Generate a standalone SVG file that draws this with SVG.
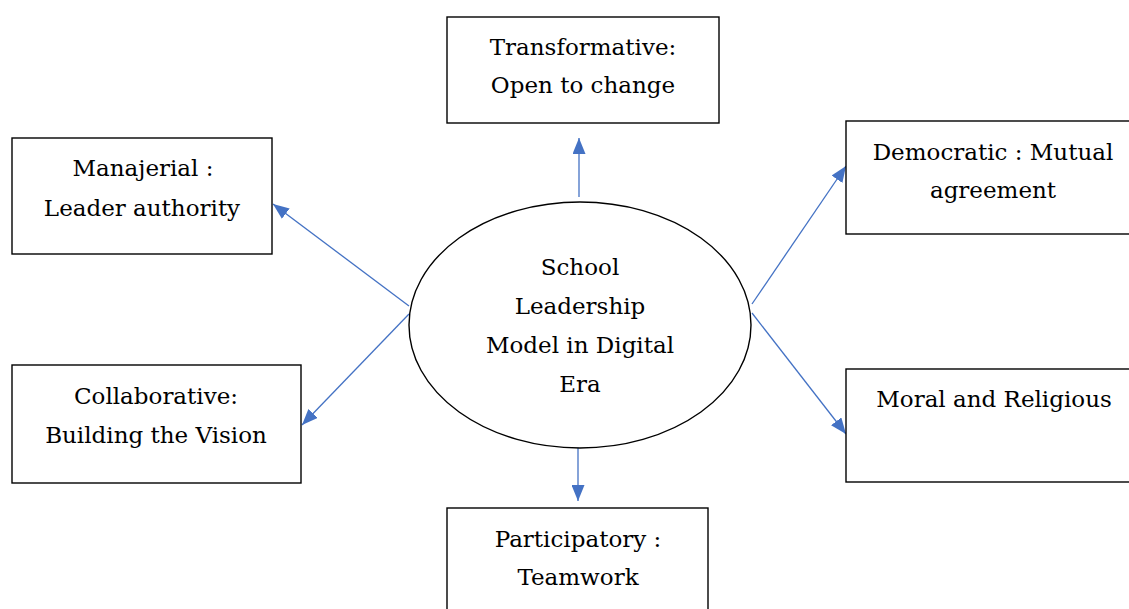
<svg xmlns="http://www.w3.org/2000/svg" width="1129" height="609" viewBox="0 0 1129 609">
<style>
.box{fill:#fff;stroke:#000;stroke-width:1.4}
.lbl{font-family:"DejaVu Serif","Liberation Serif",serif;font-size:23px;fill:#000;text-anchor:middle}
.edge{stroke:#4472C4;stroke-width:1.3;fill:none;marker-end:url(#ah)}
</style>
<defs>
<marker id="ah" markerUnits="userSpaceOnUse" markerWidth="17" markerHeight="13" refX="16" refY="6.5" orient="auto">
<path d="M0,0 L16,6.5 L0,13 z" fill="#4472C4"/>
</marker>
</defs>
<rect width="1129" height="609" fill="#fff"/>
<g id="connectors">
<line class="edge" x1="579" y1="197" x2="579" y2="138"/>
<line class="edge" x1="409" y1="306" x2="273" y2="204"/>
<line class="edge" x1="409" y1="314" x2="302" y2="425"/>
<line class="edge" x1="752" y1="304" x2="846" y2="166"/>
<line class="edge" x1="752" y1="313" x2="846" y2="434"/>
<line class="edge" x1="578" y1="448" x2="578" y2="501"/>
</g>
<g id="center">
<ellipse cx="580" cy="325" rx="171" ry="123" fill="#fff" stroke="#000" stroke-width="1.4"/>
<text class="lbl" x="580" y="275">School</text>
<text class="lbl" x="580" y="314">Leadership</text>
<text class="lbl" x="580" y="353">Model in Digital</text>
<text class="lbl" x="580" y="392">Era</text>
</g>
<g id="transformative">
<rect class="box" x="447" y="17" width="272" height="106"/>
<text class="lbl" x="583" y="55">Transformative:</text>
<text class="lbl" x="583" y="93">Open to change</text>
</g>
<g id="manajerial">
<rect class="box" x="12" y="138" width="260" height="116"/>
<text class="lbl" x="143" y="176">Manajerial :</text>
<text class="lbl" x="142" y="216">Leader authority</text>
</g>
<g id="collaborative">
<rect class="box" x="12" y="365" width="289" height="118"/>
<text class="lbl" x="156" y="404">Collaborative:</text>
<text class="lbl" x="156" y="443">Building the Vision</text>
</g>
<g id="democratic">
<rect class="box" x="846" y="121" width="300" height="113"/>
<text class="lbl" x="993" y="160">Democratic : Mutual</text>
<text class="lbl" x="993" y="198">agreement</text>
</g>
<g id="moral">
<rect class="box" x="846" y="369" width="300" height="113"/>
<text class="lbl" x="994" y="407">Moral and Religious</text>
</g>
<g id="participatory">
<rect class="box" x="447" y="508" width="261" height="120"/>
<text class="lbl" x="578" y="547">Participatory :</text>
<text class="lbl" x="578" y="585">Teamwork</text>
</g>
</svg>
